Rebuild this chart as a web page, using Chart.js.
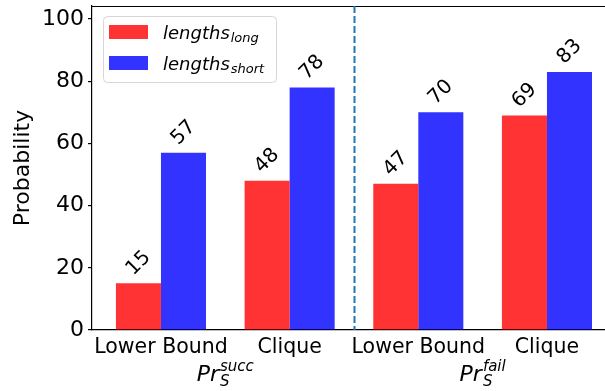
<!DOCTYPE html>
<html>
<head>
<meta charset="utf-8">
<script src="https://cdn.jsdelivr.net/npm/chart.js@4"></script>
<style>
  html, body { margin: 0; padding: 0; background: #fff; overflow: hidden; }
  #wrap { width: 605px; height: 391px; position: relative; }
</style>
</head>
<body>
<div id="wrap"><canvas id="c" width="605" height="391"></canvas></div>
<script>
const categories = ["Lower Bound", "Clique", "Lower Bound", "Clique"];
const longValues = [15, 48, 47, 69];
const shortValues = [57, 78, 70, 83];
const yTicks = [0, 20, 40, 60, 80, 100];
const groupNames = [
  { base: "Pr", sub: "S", sup: "succ" },
  { base: "Pr", sub: "S", sup: "fail" }
];

const FONT = "'DejaVu Sans', sans-serif";

const decorPlugin = {
  id: 'decor',
  afterDatasetsDraw(chart) {
    const ctx = chart.ctx;
    const xs = chart.scales.x, ys = chart.scales.y;
    const area = chart.chartArea;
    ctx.save();
    // top spine
    ctx.strokeStyle = '#000';
    ctx.lineWidth = 1.2;
    ctx.beginPath();
    ctx.moveTo(area.left, area.top + 0.5);
    ctx.lineTo(area.right, area.top + 0.5);
    ctx.stroke();
    // dashed separator
    const sx = Math.round(xs.getPixelForValue(1.5)) + 0.5;
    ctx.strokeStyle = '#1f77b4';
    ctx.lineWidth = 2;
    ctx.setLineDash([7, 3]);
    ctx.beginPath();
    ctx.moveTo(sx, area.top);
    ctx.lineTo(sx, area.bottom);
    ctx.stroke();
    ctx.setLineDash([]);
    // value labels
    ctx.fillStyle = '#000';
    ctx.font = "20px " + FONT;
    ctx.textAlign = 'center';
    ctx.textBaseline = 'middle';
    chart.data.datasets.forEach((ds, di) => {
      const meta = chart.getDatasetMeta(di);
      meta.data.forEach((el, i) => {
        ctx.save();
        ctx.translate(el.x, el.y - 20);
        ctx.rotate(-Math.PI / 4);
        ctx.fillText(String(ds.data[i].y), 0, 0);
        ctx.restore();
      });
    });
    // group labels
    groupNames.forEach((g, gi) => {
      const cx = (xs.getPixelForValue(gi * 2) + xs.getPixelForValue(gi * 2 + 1)) / 2;
      const baseY = 381;
      ctx.font = "italic 22px " + FONT;
      const wBase = ctx.measureText(g.base).width;
      ctx.font = "italic 15px " + FONT;
      const wSub = ctx.measureText(g.sub).width;
      const wSup = ctx.measureText(g.sup).width;
      const total = wBase + Math.max(wSub, wSup) + 1;
      let x0 = cx - total / 2;
      ctx.textAlign = 'left';
      ctx.textBaseline = 'alphabetic';
      ctx.font = "italic 22px " + FONT;
      ctx.fillText(g.base, x0, baseY);
      ctx.font = "italic 15px " + FONT;
      ctx.fillText(g.sub, x0 + wBase + 1, baseY + 5);
      ctx.fillText(g.sup, x0 + wBase + 1, baseY - 10);
    });
    // legend
    const lx = 103, ly = 16, lw = 173, lh = 66;
    ctx.fillStyle = 'rgba(255,255,255,0.8)';
    ctx.strokeStyle = '#d6d6d6';
    ctx.lineWidth = 1;
    ctx.beginPath();
    if (ctx.roundRect) ctx.roundRect(lx + 0.5, ly + 0.5, lw, lh, 4); else ctx.rect(lx + 0.5, ly + 0.5, lw, lh);
    ctx.fill();
    ctx.stroke();
    const items = [
      { color: chart.data.datasets[0].backgroundColor, sub: 'long', y: 32 },
      { color: chart.data.datasets[1].backgroundColor, sub: 'short', y: 63 }
    ];
    items.forEach(it => {
      ctx.fillStyle = it.color;
      ctx.fillRect(109, it.y - 7, 39, 14);
      ctx.fillStyle = '#000';
      ctx.textAlign = 'left';
      ctx.textBaseline = 'alphabetic';
      ctx.font = "italic 18px " + FONT;
      ctx.fillText('lengths', 163, it.y + 7);
      const w = ctx.measureText('lengths').width;
      ctx.font = "italic 13px " + FONT;
      ctx.fillText(it.sub, 163 + w + 1, it.y + 10);
    });
    ctx.restore();
  }
};

new Chart(document.getElementById('c'), {
  type: 'bar',
  data: {
    datasets: [
      {
        label: 'lengths_long',
        data: longValues.map((v, i) => ({ x: i, y: v })),
        backgroundColor: 'rgba(255,0,0,0.8)',
        borderWidth: 0
      },
      {
        label: 'lengths_short',
        data: shortValues.map((v, i) => ({ x: i, y: v })),
        backgroundColor: 'rgba(0,0,255,0.8)',
        borderWidth: 0
      }
    ]
  },
  options: {
    responsive: false,
    animation: false,
    devicePixelRatio: 1,
    categoryPercentage: 0.7,
    barPercentage: 1.0,
    layout: { padding: { top: 6, right: 0, left: 0, bottom: 0 } },
    plugins: { legend: { display: false }, tooltip: { enabled: false } },
    scales: {
      x: {
        type: 'linear',
        offset: false,
        min: -0.536,
        max: 3.451,
        afterBuildTicks(scale) { scale.ticks = categories.map((c, i) => ({ value: i })); },
        afterFit(scale) { scale.height = 61; scale.paddingLeft = 0; scale.paddingRight = 0; },
        ticks: {
          autoSkip: false,
          maxRotation: 0,
          padding: 5,
          color: '#000',
          font: { family: FONT, size: 20.5 },
          callback: (v) => categories[v]
        },
        grid: { drawOnChartArea: false, drawTicks: false, tickLength: 0, color: '#000', lineWidth: 1.2 },
        border: { display: true, color: '#000', width: 1.2 }
      },
      y: {
        min: 0,
        max: 104.2,
        afterBuildTicks(scale) { scale.ticks = yTicks.map(v => ({ value: v })); },
        afterFit(scale) { scale.width = 92; scale.paddingTop = 0; scale.paddingBottom = 0; },
        ticks: {
          padding: 4,
          color: '#000',
          font: { family: FONT, size: 22 }
        },
        title: {
          display: true,
          text: 'Probability',
          color: '#000',
          font: { family: FONT, size: 22 },
          padding: { top: 10, bottom: 0 }
        },
        grid: { drawOnChartArea: false, drawTicks: true, tickLength: 4, color: '#000', lineWidth: 1.2 },
        border: { display: true, color: '#000', width: 1.2 }
      }
    }
  },
  plugins: [decorPlugin]
});
</script>
</body>
</html>
